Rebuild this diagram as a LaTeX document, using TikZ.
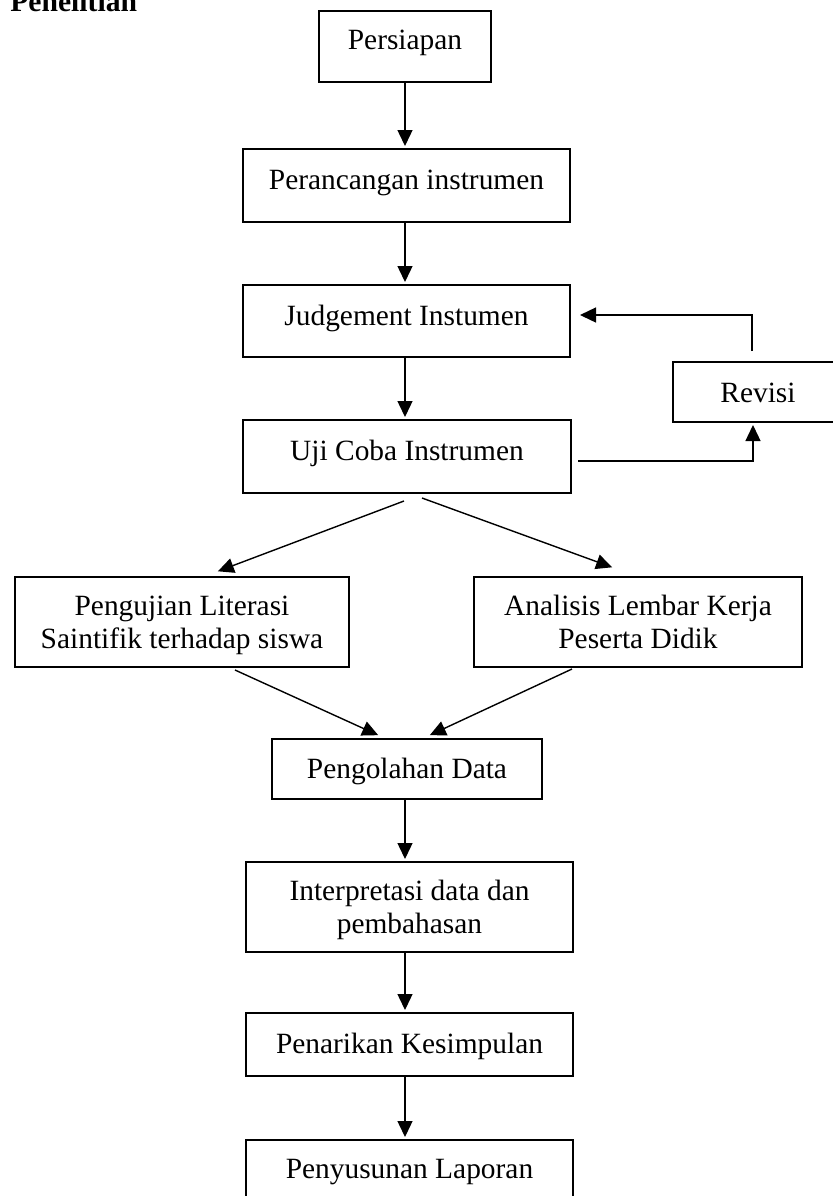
\documentclass[tikz,border=0pt]{standalone}
\usepackage{fontspec}
\setmainfont{Liberation Serif}
\usetikzlibrary{arrows.meta}
\newcommand{\twoline}[2]{\vtop{\baselineskip=16.5pt\halign{\hfil##\hfil\cr #1\cr #2\cr}}}
\begin{document}
\begin{tikzpicture}[x=0.5pt,y=-0.5pt,
  box/.style={draw, line width=1pt, rectangle, inner sep=0pt},
  txt/.style={inner sep=0pt, anchor=base, font=\fontsize{14.7pt}{16.5pt}\selectfont},
  arr/.style={line width=0.7pt, shorten >=1pt, -{Triangle[length=8pt,width=7.5pt]}}]
\useasboundingbox (0,0) rectangle (833,1196);

% title (partly cut off at the top)
\node[txt, anchor=base west, font=\bfseries\fontsize{14.8pt}{16.5pt}\selectfont] (title) at (10,11.7) {Penelitian};

% boxes
\node[box, minimum width=86pt,    minimum height=35.5pt] (persiapan)   at (405,46.5)   {};
\node[box, minimum width=163.5pt, minimum height=36.5pt] (perancangan) at (406.5,185.5) {};
\node[box, minimum width=163.5pt, minimum height=36pt]   (judgement)   at (406.5,321)  {};
\node[box, minimum width=164pt,   minimum height=36.5pt] (uji)         at (407,456.5)  {};
\node[box, minimum width=85pt,    minimum height=30pt]   (revisi)      at (758,392)    {};
\node[box, minimum width=167pt,   minimum height=45pt]   (pengujian)   at (182,622)    {};
\node[box, minimum width=164pt,   minimum height=45pt]   (analisis)    at (638,622)    {};
\node[box, minimum width=135pt,   minimum height=30pt]   (pengolahan)  at (407,769)    {};
\node[box, minimum width=163.5pt, minimum height=45pt]   (interp)      at (409.5,907)  {};
\node[box, minimum width=163.5pt, minimum height=31.5pt] (penarikan)   at (409.5,1044.5) {};
\node[box, minimum width=163.5pt, minimum height=31.5pt] (penyusunan)  at (409.5,1171.5) {};

% texts
\node[txt] (persiapanT)   at (405,49)    {Persiapan};
\node[txt] (perancanganT) at (406.5,189) {Perancangan instrumen};
\node[txt] (judgementT)   at (406.5,325) {Judgement Instumen};
\node[txt] (ujiT)         at (407,460)   {Uji Coba Instrumen};
\node[txt] (revisiT)      at (758,402)   {Revisi};
\node[txt] (pengujianT)   at (182,615)   {\twoline{Pengujian Literasi}{Saintifik terhadap siswa}};
\node[txt] (analisisT)    at (638,615)   {\twoline{Analisis Lembar Kerja}{Peserta Didik}};
\node[txt] (pengolahanT)  at (407,778)   {Pengolahan Data};
\node[txt] (interpT)      at (409.5,900) {\twoline{Interpretasi data dan}{pembahasan}};
\node[txt] (penarikanT)   at (409.5,1053) {Penarikan Kesimpulan};
\node[txt] (penyusunanT)  at (409.5,1178) {Penyusunan Laporan};

% helper coordinates
\coordinate (colx) at (405,0);
\coordinate (rx)   at (753,0);
\coordinate (u1)   at (578,461);
\coordinate (r1)   at (752,351);
\coordinate (j1)   at (578,315);
\coordinate (d1)   at (404,501);
\coordinate (d2)   at (216,572);
\coordinate (d3)   at (422,498);
\coordinate (d4)   at (614,568);
\coordinate (d5)   at (235,670);
\coordinate (d6)   at (380,736);
\coordinate (d7)   at (572,669);
\coordinate (d8)   at (428,736);

% connectors
\draw[arr] (persiapan.south -| colx)   -- (perancangan.north -| colx);
\draw[arr] (perancangan.south -| colx) -- (judgement.north -| colx);
\draw[arr] (judgement.south -| colx)   -- (uji.north -| colx);
\draw[arr] (u1) -| (revisi.south -| rx);
\draw[arr] (r1) |- (j1);
\draw[arr] (d1) -- (d2);
\draw[arr] (d3) -- (d4);
\draw[arr] (d5) -- (d6);
\draw[arr] (d7) -- (d8);
\draw[arr] (pengolahan.south -| colx) -- (interp.north -| colx);
\draw[arr] (interp.south -| colx)     -- (penarikan.north -| colx);
\draw[arr] (penarikan.south -| colx)  -- (penyusunan.north -| colx);
\end{tikzpicture}
\end{document}
